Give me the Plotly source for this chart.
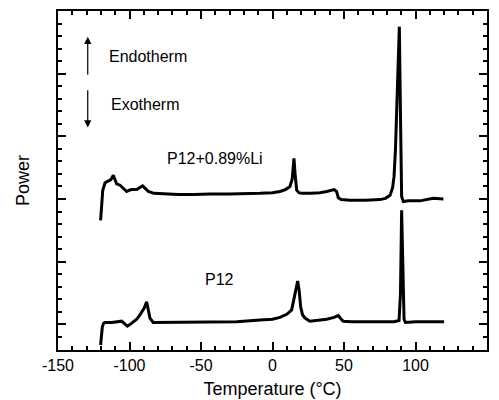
import plotly.graph_objects as go

# P12+0.89%Li curve (upper)
temp_li = [-120.2, -119.5, -118.7, -117.1, -114.8, -113, -111.3, -110, -109, -106.6, -104, -102,
           -100, -98.5, -95, -92.5, -90.8, -89, -86.8, -83, -77.5, -66, -55, -43.7, -30, -20,
           -8.7, 0, 5.2, 9, 12.2, 13.8, 15, 15.8, 16.9, 18.5, 20.4, 27, 33.2, 38, 43, 44.8,
           46, 48, 54.2, 65, 75.2, 79, 82.2, 84, 85, 86, 86.9, 87.8, 88.7, 89.4, 90.0, 90.3,
           91.5, 95, 103, 112.5, 119.5]
power_li = [2.66, 2.95, 3.14, 3.26, 3.29, 3.31, 3.38, 3.30, 3.24, 3.22, 3.16, 3.12,
            3.14, 3.15, 3.15, 3.18, 3.21, 3.17, 3.12, 3.09, 3.08, 3.07, 3.07, 3.08, 3.08, 3.08,
            3.09, 3.10, 3.12, 3.15, 3.20, 3.32, 3.65, 3.40, 3.14, 3.10, 3.09, 3.09, 3.10, 3.12, 3.15, 3.12,
            3.02, 2.99, 2.98, 2.98, 2.99, 3.01, 3.06, 3.18, 3.36, 3.80, 4.42, 5.10, 5.75, 4.50, 3.40, 3.04,
            2.96, 2.97, 2.97, 3.01, 3.00]

# P12 curve (lower)
temp_p12 = [-120.2, -119.5, -119, -118, -117.1, -112.4, -108, -105.5, -103.5, -101.5, -99.5, -97.3,
            -95, -92.7, -89.7, -88, -87, -85.7, -83.4, -70.5, -55, -40.2, -25, -8.7, 0, 5.2, 10,
            13.4, 15.7, 17.6, 18.6, 19.7, 21, 22.7, 26.2, 32, 37.9, 43, 46, 47.8, 49.5, 55, 61.2,
            75.2, 85, 88.5, 89.5, 90.3, 91.2, 92, 93, 100, 110, 120]
power_p12 = [0.67, 0.82, 0.96, 1.02, 1.03, 1.03, 1.04, 1.05, 1.01, 0.97, 1.00, 1.04,
             1.08, 1.15, 1.26, 1.36, 1.25, 1.10, 1.03, 1.03, 1.03, 1.03, 1.04, 1.07, 1.08, 1.11, 1.16,
             1.23, 1.49, 1.69, 1.55, 1.28, 1.15, 1.10, 1.05, 1.06, 1.08, 1.11, 1.14, 1.09, 1.05, 1.04, 1.04,
             1.04, 1.04, 1.06, 1.50, 2.82, 1.60, 1.08, 1.03, 1.04, 1.04, 1.04]

x_tickvals = [-150, -100, -50, 0, 50, 100, 150]
x_ticktext = ["-150", "-100", "-50", "0", "50", "100", "150"]

FONT = "Liberation Sans, Arial, sans-serif"

fig = go.Figure()
fig.add_trace(go.Scatter(x=temp_li, y=power_li, mode="lines",
                         line=dict(color="black", width=3), showlegend=False))
fig.add_trace(go.Scatter(x=temp_p12, y=power_p12, mode="lines",
                         line=dict(color="black", width=3), showlegend=False))

annotations = [
    dict(x=-115.7, y=5.28, text="Endotherm", showarrow=False, xanchor="left", yanchor="middle"),
    dict(x=-114.3, y=4.50, text="Exotherm", showarrow=False, xanchor="left", yanchor="middle"),
    dict(x=-75.2, y=3.64, text="P12+0.89%Li", showarrow=False, xanchor="left", yanchor="middle"),
    dict(x=-48.6, y=1.72, text="P12", showarrow=False, xanchor="left", yanchor="middle"),
    dict(x=-129.2, y=5.59, ax=-129.2, ay=4.96, axref="x", ayref="y", text="", showarrow=True,
         arrowhead=2, arrowsize=1.2, arrowwidth=1.2, arrowcolor="black"),
    dict(x=-129.2, y=4.14, ax=-129.2, ay=4.76, axref="x", ayref="y", text="", showarrow=True,
         arrowhead=2, arrowsize=1.2, arrowwidth=1.2, arrowcolor="black"),
]
for a in annotations:
    a.setdefault("font", dict(family=FONT, size=16, color="black"))
fig.update_layout(annotations=annotations)

fig.update_layout(
    width=499, height=400,
    margin=dict(l=58, r=12, t=11, b=50, autoexpand=False),
    paper_bgcolor="white", plot_bgcolor="white",
    font=dict(family=FONT, size=16, color="black"),
    xaxis=dict(range=[-150, 150], tickvals=x_tickvals, ticktext=x_ticktext, automargin=False,
               ticks="inside", ticklen=8, tickwidth=1.5, tickcolor="black",
               showline=True, linewidth=2, linecolor="black", mirror="allticks",
               showgrid=False, zeroline=False,
               minor=dict(dtick=10, ticks="inside", ticklen=4, tickwidth=1.5, tickcolor="black", showgrid=False),
               tickfont=dict(family=FONT, size=16),
               title=dict(text="Temperature (°C)", font=dict(family=FONT, size=18), standoff=9)),
    yaxis=dict(range=[0.59, 6.0], dtick=1, tick0=0, showticklabels=False, automargin=False,
               ticks="inside", ticklen=8, tickwidth=1.5, tickcolor="black",
               showline=True, linewidth=2, linecolor="black", mirror="allticks",
               showgrid=False, zeroline=False,
               minor=dict(dtick=0.2, ticks="inside", ticklen=4, tickwidth=1.5, tickcolor="black", showgrid=False),
               title=dict(text="Power", font=dict(family=FONT, size=18), standoff=22)),
)

fig.write_html("out.html", config={"displayModeBar": False},
               post_script="document.body.style.margin='0';")
